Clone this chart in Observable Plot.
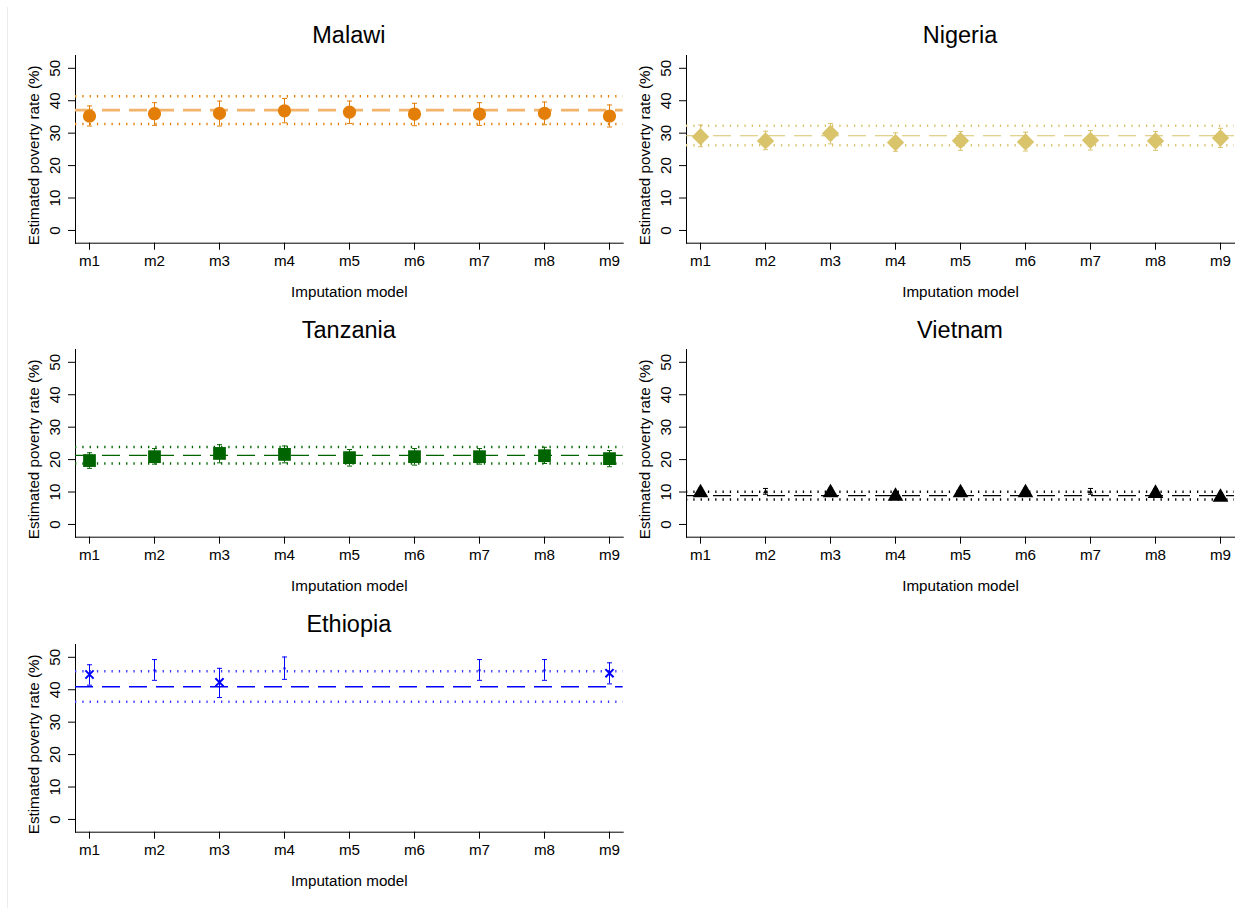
<!DOCTYPE html>
<html>
<head>
<meta charset="utf-8">
<script src="https://cdn.jsdelivr.net/npm/d3@7"></script>
<script src="https://cdn.jsdelivr.net/npm/@observablehq/plot@0.6"></script>
<style>
  html, body { margin: 0; padding: 0; background: #fff; }
  #root { position: relative; width: 1243px; height: 908px; overflow: hidden; background: #fff;
          font-family: "Liberation Sans", Arial, sans-serif; }
  .edge { position: absolute; left: 7px; top: 7px; width: 1px; bottom: 0; background: #ececec; }
  .panel { position: absolute; }
  .title { position: absolute; font-size: 23.5px; line-height: 22px; text-align: center; color: #000; z-index: 2; }
</style>
</head>
<body>
<div id="root"><div class="edge"></div></div>
<script>
// ---------- data ----------
const models = ["m1", "m2", "m3", "m4", "m5", "m6", "m7", "m8", "m9"];
const yTicks = [0, 10, 20, 30, 40, 50];
const xTitle = "Imputation model";
const yTitle = "Estimated poverty rate (%)";

const malawiEst = [35.3, 36.0, 36.1, 36.9, 36.5, 35.9, 35.9, 36.1, 35.3];
const malawiLo  = [32.2, 32.4, 32.2, 33.2, 33.0, 32.3, 32.4, 32.6, 31.9];
const malawiHi  = [38.4, 39.4, 39.9, 40.7, 39.9, 39.2, 39.4, 39.6, 38.7];
const malawiRef = [37.1, 32.8, 41.4]; // mean, lower, upper

const nigeriaEst = [28.9, 27.6, 29.9, 27.1, 27.7, 27.3, 27.8, 27.6, 28.5];
const nigeriaLo  = [25.8, 24.9, 26.7, 24.4, 24.7, 24.5, 24.8, 24.7, 25.6];
const nigeriaHi  = [32.5, 30.6, 33.0, 30.1, 30.5, 30.3, 30.8, 30.5, 31.5];
const nigeriaRef = [29.2, 26.3, 32.3];

const tanzaniaEst = [19.7, 20.9, 21.9, 21.6, 20.6, 20.9, 20.9, 21.2, 20.3];
const tanzaniaLo  = [17.3, 18.6, 19.0, 19.0, 18.0, 18.3, 18.6, 18.8, 17.8];
const tanzaniaHi  = [22.1, 23.4, 24.6, 24.2, 23.1, 23.4, 23.4, 23.8, 22.8];
const tanzaniaRef = [21.3, 18.8, 23.9];

const vietnamEst = [10.4, 10.3, 10.4, 9.3, 10.4, 10.4, 10.3, 10.2, 9.0];
const vietnamLo  = [9.6, 9.3, 9.6, 8.5, 9.6, 9.6, 9.3, 9.4, 8.2];
const vietnamHi  = [11.2, 11.1, 11.2, 10.1, 11.2, 11.2, 11.1, 11.0, 9.8];
const vietnamFlag = [false, true, false, false, false, false, true, false, false];
const vietnamRef = [8.9, 7.7, 10.1];

const ethiopiaEst = [44.7, 46.0, 42.3, 46.6, null, null, 46.0, 46.0, 45.1];
const ethiopiaLo  = [41.4, 42.9, 37.6, 43.2, null, null, 42.9, 42.9, 41.8];
const ethiopiaHi  = [47.7, 49.3, 46.6, 50.1, null, null, 49.3, 49.3, 48.3];
const ethiopiaFlag = [false, true, false, true, false, false, true, true, false];
const ethiopiaRef = [40.9, 36.3, 45.7];

// ---------- drawing ----------
const capSymbol = {
  draw(ctx, size) { const h = Math.sqrt(size / Math.PI); ctx.moveTo(-h, 0); ctx.lineTo(h, 0); }
};

const root = document.getElementById("root");

function panel(cfg) {
  const rows = models.map((m, i) => ({
    model: m, est: cfg.est[i], lo: cfg.lo[i], hi: cfg.hi[i], flag: cfg.flag ? cfg.flag[i] : false
  })).filter(d => d.est != null);
  const [mean, bLo, bHi] = cfg.ref;
  const big = rows.filter(d => !d.flag), small = rows.filter(d => d.flag);
  const c = cfg.color;

  const dotOpts = (r, sym, extra) => {
    const o = { x: "model", y: "est", symbol: sym, r, ...extra };
    if (sym === "times") { o.stroke = c; o.strokeWidth = 2; o.fill = "none"; }
    else { o.fill = c; o.stroke = "none"; }
    return o;
  };

  const plot = Plot.plot({
    width: cfg.width, height: 265,
    marginLeft: 75, marginRight: cfg.marginRight, marginTop: 15, marginBottom: 62.3,
    style: { fontFamily: '"Liberation Sans", Arial, sans-serif', fontSize: "15.2px", color: "#000", background: "transparent", overflow: "visible" },
    x: { type: "point", domain: models, padding: 0.2, label: xTitle, labelAnchor: "center",
         labelOffset: 54, tickSize: 7, tickPadding: 5, line: true },
    y: { domain: [-3.93, 53.95], ticks: yTicks, label: null,
         tickSize: 7, tickRotate: -90, tickPadding: 9, line: true },
    marks: [
      Plot.text([yTitle], { text: d => d, frameAnchor: "left", rotate: -90, textAnchor: "middle",
                            lineAnchor: "top", dx: -47, dy: 6, fontSize: 15.2, fill: "#000" }),
      Plot.ruleY([bLo, bHi], { stroke: cfg.dotColor || c, strokeWidth: 2.5, strokeDasharray: "1.3,6" }),
      Plot.ruleY([mean], { stroke: cfg.meanColor || c, strokeWidth: cfg.meanWidth || 1.2, strokeDasharray: "18,9" }),
      Plot.ruleX(rows, { x: "model", y1: "lo", y2: "hi", stroke: c, strokeWidth: 1 }),
      Plot.dot(rows, { x: "model", y: "lo", symbol: capSymbol, r: 2.5, stroke: c, fill: "none", strokeWidth: 1 }),
      Plot.dot(rows, { x: "model", y: "hi", symbol: capSymbol, r: 2.5, stroke: c, fill: "none", strokeWidth: 1 }),
      Plot.dot(big, dotOpts(cfg.r, cfg.symbol, cfg.dy ? { dy: cfg.dy } : {})),
      Plot.dot(small, dotOpts(cfg.smallR || 1.5, cfg.smallSymbol || cfg.symbol, cfg.smallDy ? { dy: cfg.smallDy } : {}))
    ]
  });
  const wrap = document.createElement("div");
  wrap.className = "panel";
  wrap.style.left = cfg.left + "px";
  wrap.style.top = (40 + cfg.off) + "px";
  wrap.appendChild(plot);
  root.appendChild(wrap);

  const t = document.createElement("div");
  t.className = "title";
  t.textContent = cfg.title;
  t.style.left = (cfg.left + 75) + "px";
  t.style.width = (cfg.width - 75 - cfg.marginRight) + "px";
  t.style.top = (24.4 + cfg.off) + "px";
  root.appendChild(t);
}

const L = { left: 0, width: 640, marginRight: 17.3 };
const R = { left: 611, width: 632, marginRight: 9 };
const rowOff = [0, 294.3, 588.5];

panel({ ...L, off: rowOff[0], title: "Malawi", est: malawiEst, lo: malawiLo, hi: malawiHi, ref: malawiRef,
        color: "#e37f08", meanColor: "#f2b46a", meanWidth: 2.6, symbol: "circle", r: 6.6 });
panel({ ...R, off: rowOff[0], title: "Nigeria", est: nigeriaEst, lo: nigeriaLo, hi: nigeriaHi, ref: nigeriaRef,
        color: "#d9c36b", meanWidth: 1.2, symbol: "diamond2", r: 7.8 });
panel({ ...L, off: rowOff[1], title: "Tanzania", est: tanzaniaEst, lo: tanzaniaLo, hi: tanzaniaHi, ref: tanzaniaRef,
        color: "#006400", meanWidth: 1.3, symbol: "square", r: 7.2 });
panel({ ...R, off: rowOff[1], title: "Vietnam", est: vietnamEst, lo: vietnamLo, hi: vietnamHi, ref: vietnamRef,
        flag: vietnamFlag, color: "#000000", meanWidth: 1.2, symbol: "triangle", r: 5.8, dy: 2,
        smallR: 1.8, smallDy: 0.7 });
panel({ ...L, off: rowOff[2], title: "Ethiopia", est: ethiopiaEst, lo: ethiopiaLo, hi: ethiopiaHi, ref: ethiopiaRef,
        flag: ethiopiaFlag, color: "#0000ff", dotColor: "#3a3aff", meanWidth: 1.6, symbol: "times", r: 3.8,
        smallSymbol: "square", smallR: 1.2 });
</script>
</body>
</html>
